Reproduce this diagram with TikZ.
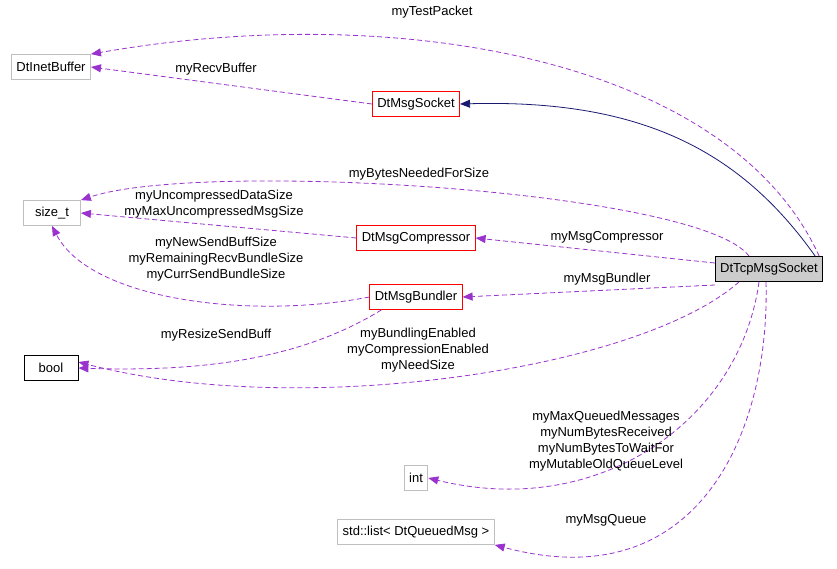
\documentclass[tikz,border=0pt]{standalone}
\usepackage{fontspec}
\setmainfont{Liberation Sans}
\usetikzlibrary{arrows.meta}
\definecolor{purp}{HTML}{9A32CD}
\definecolor{navy}{HTML}{191970}
\definecolor{gbox}{HTML}{BFBFBF}
\begin{document}
\begin{tikzpicture}[x=1pt,y=-1pt,
  every node/.style={font=\fontsize{13}{16}\selectfont},
  box/.style={draw=#1,fill=white,minimum height=25pt,inner xsep=5pt,line width=0.8pt},
  rel/.style={draw=purp,dashed,dash pattern=on 5pt off 3pt,line width=0.8pt,-{Triangle[length=10pt,width=8pt,fill=purp]}},
  inh/.style={draw=navy,line width=0.8pt,-{Triangle[length=10pt,width=8pt,fill=navy]}},
  lab/.style={align=center,inner sep=0pt}]
\useasboundingbox (0,0) rectangle (837,568);
\node[box=gbox] (inet) at (51,67) {DtInetBuffer};
\node[box=red] (sock) at (416,104) {DtMsgSocket};
\node[box=gbox,minimum width=57pt] (sizet) at (52,213) {size\_t};
\node[box=red] (comp) at (416,238) {DtMsgCompressor};
\node[box=red] (bund) at (416,297) {DtMsgBundler};
\node[box=black,minimum width=54pt] (bool) at (51,368) {bool};
\node[box=black,fill=gbox!80] (tcp) at (769,269) {DtTcpMsgSocket};
\node[box=gbox] (int) at (416,478) {int};
\node[box=gbox] (list) at (416,532) {std::list< DtQueuedMsg >};

\draw[inh] (tcp.north east) ++(-8,0) .. controls (740,150) and (640,99) .. (sock.east);
\draw[rel] (tcp.north east) ++(-4,0) .. controls (730,60) and (400,0) .. (inet.north east);
\draw[rel] (sock.west) -- (inet.east);
\draw[rel] (tcp.north) ++(-20,0) .. controls (700,190) and (200,160) .. (sizet.north east);
\draw[rel] (comp.west) -- (sizet.east);
\draw[rel] (bund.west) .. controls (250,320) and (90,300) .. (sizet.south);
\draw[rel] (tcp.west) ++(0,-6) -- (comp.east);
\draw[rel] (tcp.west) ++(0,16) -- (bund.east);
\draw[rel] (bund.south west) ++(12,0) .. controls (300,360) and (200,372) .. (bool.east);
\draw[rel] (tcp.south) ++(-30,0) .. controls (640,370) and (300,420) .. ([yshift=6pt]bool.east);
\draw[rel] (tcp.south) ++(-10,0) .. controls (740,420) and (600,520) .. (int.east);
\draw[rel] (tcp.south) ++(-3,0) .. controls (770,430) and (700,600) .. (list.south east);

\node[lab] (l1) at (432,12) {myTestPacket};
\node[lab] (l2) at (216,69) {myRecvBuffer};
\node[lab] (l3) at (419,174) {myBytesNeededForSize};
\node[lab] (l4) at (214,204) {myUncompressedDataSize\\myMaxUncompressedMsgSize};
\node[lab] (l5) at (216,259) {myNewSendBuffSize\\myRemainingRecvBundleSize\\myCurrSendBundleSize};
\node[lab] (l6) at (607,237) {myMsgCompressor};
\node[lab] (l7) at (607,279) {myMsgBundler};
\node[lab] (l8) at (216,335) {myResizeSendBuff};
\node[lab] (l9) at (418,350) {myBundlingEnabled\\myCompressionEnabled\\myNeedSize};
\node[lab] (l10) at (606,441) {myMaxQueuedMessages\\myNumBytesReceived\\myNumBytesToWaitFor\\myMutableOldQueueLevel};
\node[lab] (l11) at (606,520) {myMsgQueue};
\end{tikzpicture}
\end{document}
